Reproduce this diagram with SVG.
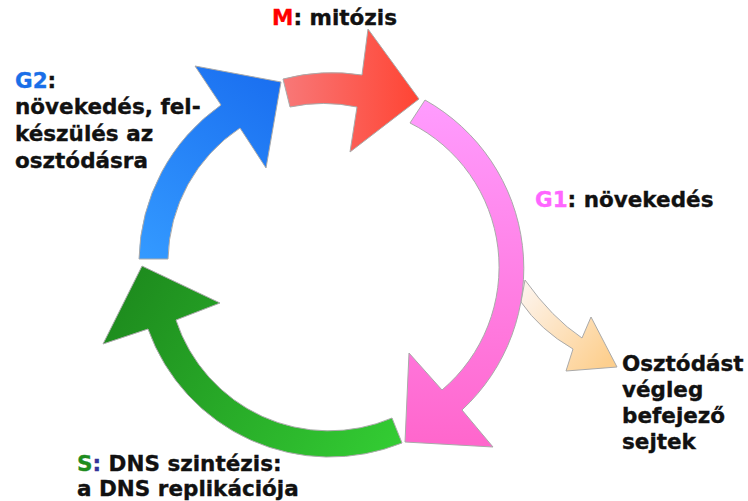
<svg xmlns="http://www.w3.org/2000/svg" width="748" height="501" viewBox="0 0 748 501">
<defs>
<linearGradient id="gRed" gradientUnits="userSpaceOnUse" x1="283" y1="90" x2="420" y2="90"><stop offset="0" stop-color="#F87878"/><stop offset="1" stop-color="#FF4433"/></linearGradient>
<linearGradient id="gPink" gradientUnits="userSpaceOnUse" x1="0" y1="100" x2="0" y2="447"><stop offset="0" stop-color="#FF9CFF"/><stop offset="1" stop-color="#FF66CC"/></linearGradient>
<linearGradient id="gGreen" gradientUnits="userSpaceOnUse" x1="400" y1="440" x2="140" y2="270"><stop offset="0" stop-color="#33CC33"/><stop offset="1" stop-color="#1E8C1E"/></linearGradient>
<linearGradient id="gBlue" gradientUnits="userSpaceOnUse" x1="150" y1="260" x2="280" y2="80"><stop offset="0" stop-color="#3399FF"/><stop offset="1" stop-color="#1A6FF0"/></linearGradient>
<linearGradient id="gOrange" gradientUnits="userSpaceOnUse" x1="525" y1="290" x2="610" y2="360"><stop offset="0" stop-color="#FDF3EA"/><stop offset="1" stop-color="#FDCF8E"/></linearGradient>
</defs>
<style>
.arr{stroke:#AAAAAA;stroke-width:1;stroke-linejoin:miter}
.t{font-family:"DejaVu Sans",Verdana,sans-serif;font-weight:bold;font-size:21.5px;fill:#111111;stroke:#111111;stroke-width:0.35}
</style>
<g id="connectors">
<path id="arrow-out" class="arr" fill="url(#gOrange)" d="M525,280 Q552,318 582,338 L591,317 L617,367 L566,371 L573,349 Q540,330 521,302 Z"/>
<path id="arrow-M" class="arr" fill="url(#gRed)" d="M283,79 A193,193 0 0 1 362,75 L368,29 L419,99 L350,152 L357,107 A161,161 0 0 0 290,107 Z"/>
<path id="arrow-G1" class="arr" fill="url(#gPink)" d="M425,100 A193,193 0 0 1 462,410 L493,447 L405,442 L409,353 L442,390 A161,161 0 0 0 410,123 Z"/>
<path id="arrow-S" class="arr" fill="url(#gGreen)" d="M402,443 A193,193 0 0 1 148,329 L103,344 L142,266 L220,303 L176,320 A161,161 0 0 0 392,418 Z"/>
<path id="arrow-G2" class="arr" fill="url(#gBlue)" d="M139,259 A193,193 0 0 1 221,105 L195,66 L281,82 L266,168 L240,128 A161,161 0 0 0 168,259 Z"/>
</g>
<g id="node-M">
<text class="t" x="272" y="25"><tspan fill="#FF0000" stroke="#FF0000">M</tspan>: mitózis</text>
</g>
<g id="node-G2">
<text class="t" x="15" y="88"><tspan fill="#1A6FE8" stroke="#1A6FE8">G2</tspan>:</text>
<text class="t" x="15" y="114">növekedés, fel-</text>
<text class="t" x="15" y="141">készülés az</text>
<text class="t" x="15" y="168">osztódásra</text>
</g>
<g id="node-G1">
<text class="t" x="535" y="207"><tspan fill="#FF66FF" stroke="#FF66FF">G1</tspan>: növekedés</text>
</g>
<g id="node-G0">
<text class="t" x="622" y="371">Osztódást</text>
<text class="t" x="622" y="397">végleg</text>
<text class="t" x="622" y="423">befejező</text>
<text class="t" x="622" y="449">sejtek</text>
</g>
<g id="node-S">
<text class="t" x="77" y="471"><tspan fill="#1E8C1E" stroke="#1E8C1E">S</tspan><tspan fill="#333399" stroke="#333399">:</tspan> DNS szintézis:</text>
<text class="t" x="77" y="496">a DNS replikációja</text>
</g>
</svg>
